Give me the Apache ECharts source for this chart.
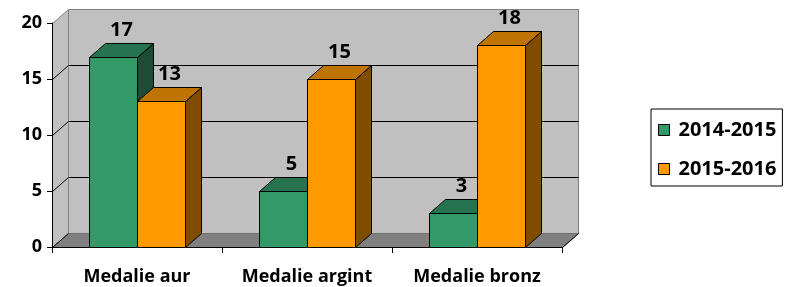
<!DOCTYPE html>
<html>
<head>
<meta charset="utf-8">
<script src="https://cdn.jsdelivr.net/npm/echarts@6/dist/echarts.min.js"></script>
<style>
html,body{margin:0;padding:0;background:#fff;}
#chart{width:790px;height:287px;}
</style>
</head>
<body>
<div id="chart"></div>
<script>
const categories = ['Medalie aur', 'Medalie argint', 'Medalie bronz'];
const seriesNames = ['2014-2015', '2015-2016'];
const values2014 = [17, 5, 3];
const values2015 = [13, 15, 18];
const yTicks = [0, 5, 10, 15, 20];

const FONT = '"Open Sans", "Liberation Sans", sans-serif';
const DX = 16, DY = -14;          // depth offset of the 3D box
const BAR_RATIO = 48 / 170;       // bar width relative to category band

const GREEN = { front: '#339966', top: '#28734f', side: '#1d4c34' };
const ORANGE = { front: '#ff9900', top: '#bf7300', side: '#7f4c00' };

function wallsRender(params, api) {
  const cs = params.coordSys;
  const x0 = Math.round(cs.x) + 0.5, x1 = Math.round(cs.x + cs.width) + 0.5;
  const yT = Math.round(cs.y) + 0.5, yB = Math.round(cs.y + cs.height) + 0.5;
  const children = [];
  children.push({ type: 'polygon', shape: { points: [[x0 + DX, yT + DY], [x1 + DX, yT + DY], [x1 + DX, yB + DY], [x0 + DX, yB + DY]] },
    style: { fill: '#c0c0c0', stroke: '#808080', lineWidth: 1 } });
  children.push({ type: 'polygon', shape: { points: [[x0, yT], [x0 + DX, yT + DY], [x0 + DX, yB + DY], [x0, yB]] },
    style: { fill: '#c0c0c0', stroke: '#808080', lineWidth: 1 } });
  children.push({ type: 'polygon', shape: { points: [[x0, yB], [x1, yB], [x1 + DX, yB + DY], [x0 + DX, yB + DY]] },
    style: { fill: '#808080', stroke: '#707070', lineWidth: 1 } });
  const maxV = yTicks[yTicks.length - 1];
  yTicks.forEach(function (v) {
    if (v === 0 || v === maxV) return;
    const y = Math.round(api.coord([0, v])[1]) + 0.5;
    children.push({ type: 'polyline', shape: { points: [[x0, y], [x0 + DX, y + DY], [x1 + DX, y + DY]] },
      style: { stroke: '#000', lineWidth: 1, fill: null } });
  });
  children.push({ type: 'line', shape: { x1: x0, y1: yB, x2: x0 + DX, y2: yB + DY }, style: { stroke: '#000', lineWidth: 1 } });
  children.push({ type: 'line', shape: { x1: x1, y1: yB, x2: x1 + DX, y2: yB + DY }, style: { stroke: '#000', lineWidth: 1 } });
  return { type: 'group', children: children };
}

function makeBarRender(leftSide, colors) {
  return function (params, api) {
    const ci = api.value(0), v = api.value(1);
    const top = api.coord([ci, v]);
    const base = api.coord([ci, 0]);
    const band = api.size([1, 0])[0];
    const w = Math.round(band * BAR_RATIO);
    const cx = Math.round(top[0]);
    const a = (leftSide ? cx - w : cx) + 0.5;
    const b = a + w;
    const yt = Math.round(top[1]) + 0.5;
    const yb = Math.round(base[1]) + 0.5;
    const st = { stroke: '#000', lineWidth: 1 };
    return {
      type: 'group',
      children: [
        { type: 'polygon', shape: { points: [[b, yt], [b + DX, yt + DY], [b + DX, yb + DY], [b, yb]] },
          style: Object.assign({ fill: colors.side }, st) },
        { type: 'polygon', shape: { points: [[a, yt], [b, yt], [b + DX, yt + DY], [a + DX, yt + DY]] },
          style: Object.assign({ fill: colors.top }, st) },
        { type: 'rect', shape: { x: a, y: yt, width: w, height: yb - yt },
          style: Object.assign({ fill: colors.front }, st) },
        { type: 'text', style: { text: String(v), x: (a + b) / 2 + DX / 2, y: yt + DY - 13,
          align: 'center', verticalAlign: 'middle', fill: '#000',
          fontSize: 20, fontWeight: 'bold', fontFamily: FONT } }
      ]
    };
  };
}

const chart = echarts.init(document.getElementById('chart'), null, { renderer: 'canvas' });
chart.setOption({
  animation: false,
  backgroundColor: '#ffffff',
  grid: { left: 52, right: 228, top: 23, bottom: 40, containLabel: false },
  legend: {
    orient: 'vertical',
    left: 651, top: 109,
    padding: [11, 6, 7, 7],
    itemGap: 19,
    itemWidth: 11, itemHeight: 11,
    icon: 'rect',
    borderColor: '#000', borderWidth: 1,
    itemStyle: { borderColor: '#000', borderWidth: 1 },
    textStyle: { fontFamily: FONT, fontSize: 20, fontWeight: 'bold', color: '#000', lineHeight: 20, padding: [0, 0, 0, 4] },
    data: seriesNames
  },
  xAxis: {
    type: 'category',
    data: categories,
    boundaryGap: true,
    axisLine: { show: true, lineStyle: { color: '#000', width: 1 } },
    axisTick: { show: true, length: 6, interval: 0, lineStyle: { color: '#000' } },
    axisLabel: { margin: 21, fontFamily: FONT, fontSize: 18, fontWeight: 'bold', color: '#000', lineHeight: 18, interval: 0 },
    splitLine: { show: false },
    z: 3
  },
  yAxis: {
    type: 'value',
    min: 0, max: 20, interval: 5,
    axisLine: { show: true, lineStyle: { color: '#000', width: 1 } },
    axisTick: { show: true, length: 5, lineStyle: { color: '#000' } },
    axisLabel: { margin: 10, fontFamily: FONT, fontSize: 18, fontWeight: 'bold', color: '#000' },
    splitLine: { show: false },
    z: 3
  },
  series: [
    { type: 'custom', name: 'walls', silent: true, z: 1, clip: false,
      renderItem: wallsRender, data: [[0, 0]], encode: { x: 0, y: 1 } },
    { type: 'custom', name: seriesNames[0], z: 4, clip: false,
      itemStyle: { color: GREEN.front, borderColor: '#000', borderWidth: 1 },
      renderItem: makeBarRender(true, GREEN),
      data: values2014.map(function (v, i) { return [i, v]; }), encode: { x: 0, y: 1 } },
    { type: 'custom', name: seriesNames[1], z: 5, clip: false,
      itemStyle: { color: ORANGE.front, borderColor: '#000', borderWidth: 1 },
      renderItem: makeBarRender(false, ORANGE),
      data: values2015.map(function (v, i) { return [i, v]; }), encode: { x: 0, y: 1 } }
  ]
});
</script>
</body>
</html>
